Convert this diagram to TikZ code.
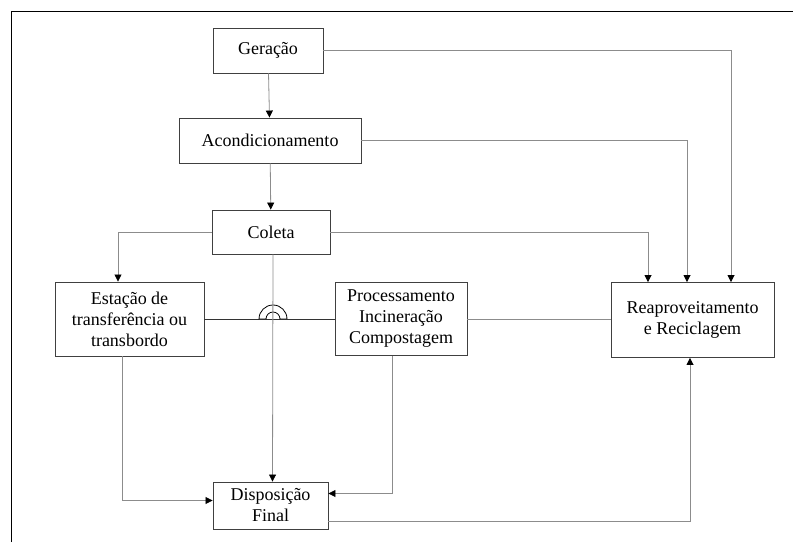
\documentclass[tikz,border=0pt]{standalone}
\usepackage{fontspec}
\setmainfont{Liberation Serif}
\usetikzlibrary{arrows.meta}

\tikzset{
	box/.style={draw=black!75, line width=0.9pt, fill=white, inner sep=0pt, align=center,
		font=\fontsize{18}{21}\selectfont},
	link/.style={draw=black!45, line width=0.8pt},
	tip/.style={-{Triangle[length=7pt,width=7pt,black]}}
}

\begin{document}
\begin{tikzpicture}[x=1pt, y=1pt]
{
	\useasboundingbox (0,0) rectangle (793,542);
	\draw[line width=1pt] (11,0) -- (11,530) -- (793,530);

	\node[box, minimum width=110pt, minimum height=45pt] (gen) at (268,491.5) {Geração};
	\node[box, minimum width=182pt, minimum height=45pt] (acond) at (270,401.5) {Acondicionamento};
	\node[box, minimum width=118pt, minimum height=44pt] (col) at (271,310) {Coleta};
	\node[box, minimum width=149pt, minimum height=74pt] (est) at (129.5,223) {Estação de\\transferência ou\\transbordo};
	\node[box, minimum width=132pt, minimum height=73pt] (proc) at (401,223) {Processamento\\Incineração\\Compostagem};
	\node[box, minimum width=163pt, minimum height=75pt] (reap) at (692.5,222) {Reaproveitamento\\e Reciclagem};
	\node[box, minimum width=115pt, minimum height=47pt] (disp) at (270.5,36.5) {Disposição\\Final};

	% fluxo principal
	\draw[link, tip] (gen) -- (acond);
	\draw[link, tip] (acond) -- (col);
	\draw[link, tip] (gen.east) -| ([xshift=38.5pt]reap.north);
	\draw[link, tip] (acond.east) -| ([xshift=-5.5pt]reap.north);
	\draw[link, tip] (col.east) -| ([xshift=-44.5pt]reap.north);
	\draw[link, tip] (col.west) -| ([xshift=-11.5pt]est.north);

	% ligacao horizontal com salto
	\coordinate (hop) at ([xshift=2pt]col.south |- est.east);
	\draw[draw=black!80, line width=0.8pt] (est.east) -- (proc.west);
	\draw[link] (proc.east) -- (reap.west |- proc.east);
	\draw[black, line width=0.8pt, fill=white] ([xshift=-14pt]hop) arc (180:0:14pt)
		-- ([xshift=7pt]hop) arc (0:180:7pt) -- cycle;
	\draw[link, tip] ([xshift=2pt]col.south) -- ([xshift=2pt]disp.north);

	% para disposicao final
	\draw[link, tip] ([xshift=-7.5pt]est.south) |- ([yshift=5pt]disp.west);
	\draw[link, tip] ([xshift=-9pt]proc.south) |- ([yshift=12pt]disp.east);
	\draw[link, tip] ([yshift=-15.5pt]disp.east) -| ([xshift=-2.5pt]reap.south);
}
\end{tikzpicture}
\end{document}
